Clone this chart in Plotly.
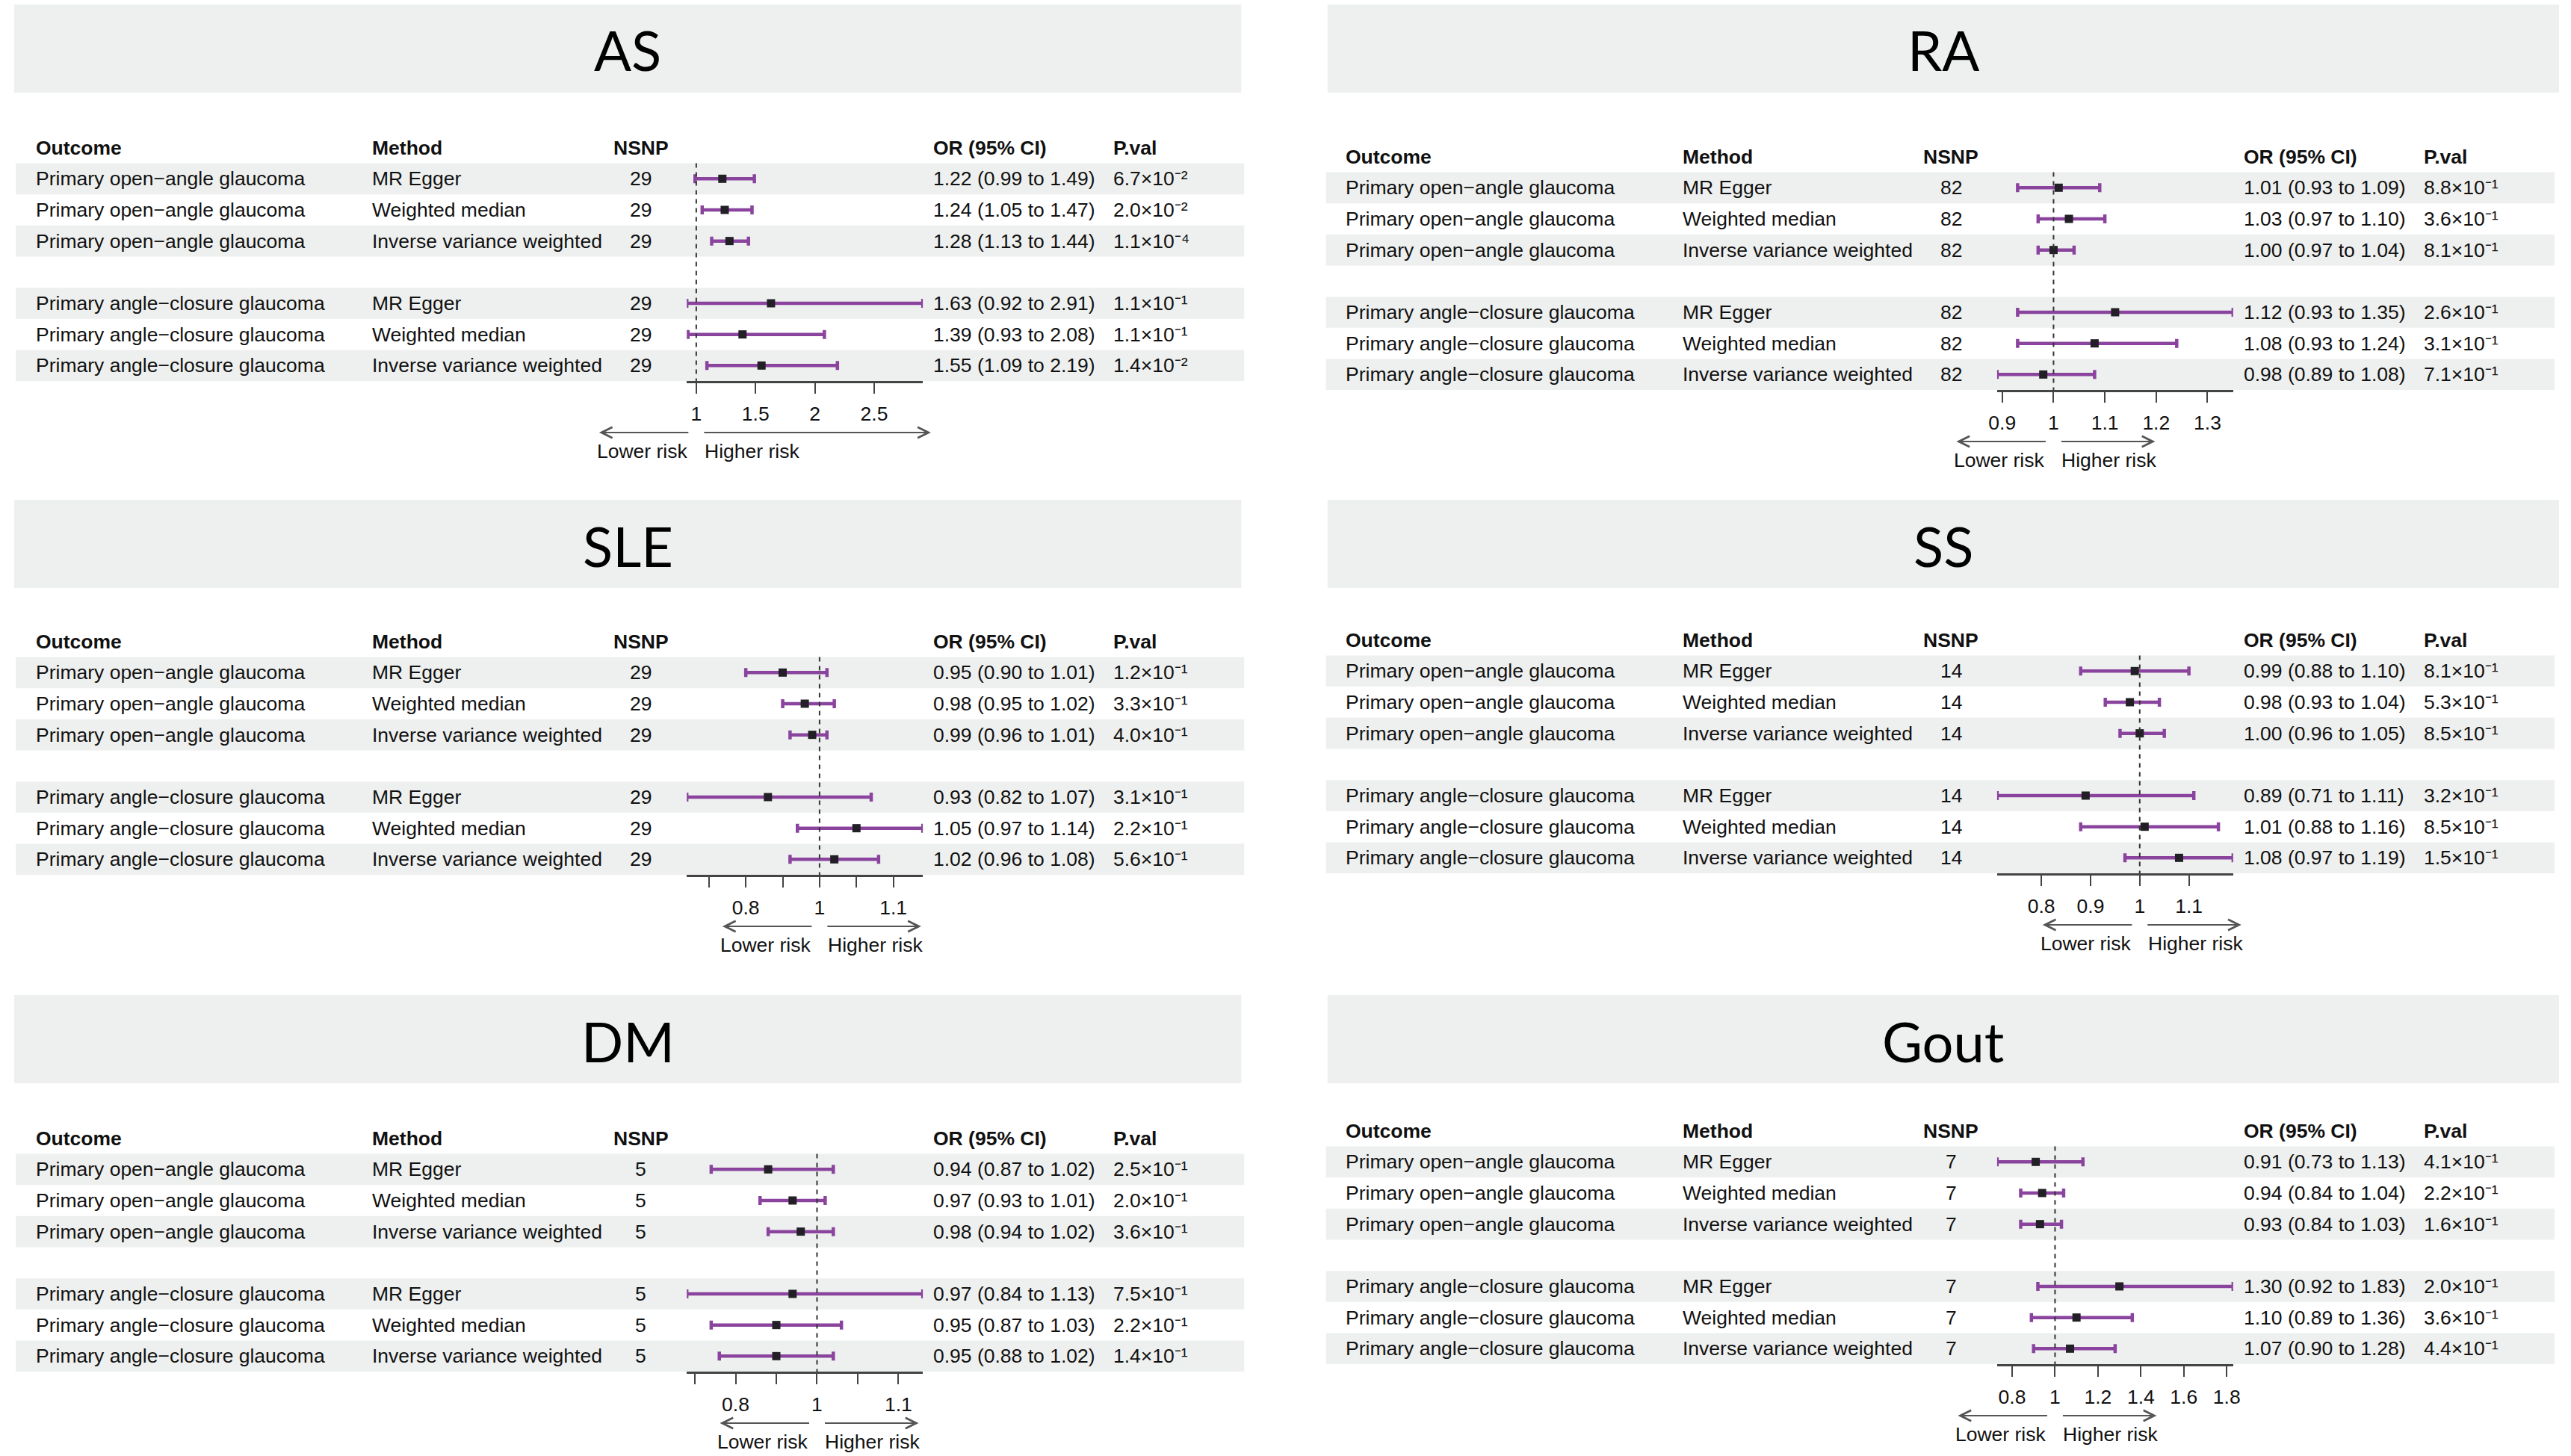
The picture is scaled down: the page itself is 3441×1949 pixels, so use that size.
import math
import plotly.graph_objects as go

# ---- data -------------------------------------------------------------
panels = ["AS", "RA", "SLE", "SS", "DM", "Gout"]
outcomes = ["Primary open\u2212angle glaucoma"] * 3 + ["Primary angle\u2212closure glaucoma"] * 3
methods = ["MR Egger", "Weighted median", "Inverse variance weighted"] * 2
nsnp = [29, 82, 29, 14, 5, 7]

or_vals = [
    [1.22, 1.24, 1.28, 1.63, 1.39, 1.55],
    [1.01, 1.03, 1.00, 1.12, 1.08, 0.98],
    [0.95, 0.98, 0.99, 0.93, 1.05, 1.02],
    [0.99, 0.98, 1.00, 0.89, 1.01, 1.08],
    [0.94, 0.97, 0.98, 0.97, 0.95, 0.95],
    [0.91, 0.94, 0.93, 1.30, 1.10, 1.07],
]
lo_vals = [
    [0.99, 1.05, 1.13, 0.92, 0.93, 1.09],
    [0.93, 0.97, 0.97, 0.93, 0.93, 0.89],
    [0.90, 0.95, 0.96, 0.82, 0.97, 0.96],
    [0.88, 0.93, 0.96, 0.71, 0.88, 0.97],
    [0.87, 0.93, 0.94, 0.84, 0.87, 0.88],
    [0.73, 0.84, 0.84, 0.92, 0.89, 0.90],
]
hi_vals = [
    [1.49, 1.47, 1.44, 2.91, 2.08, 2.19],
    [1.09, 1.10, 1.04, 1.35, 1.24, 1.08],
    [1.01, 1.02, 1.01, 1.07, 1.14, 1.08],
    [1.10, 1.04, 1.05, 1.11, 1.16, 1.19],
    [1.02, 1.01, 1.02, 1.13, 1.03, 1.02],
    [1.13, 1.04, 1.03, 1.83, 1.36, 1.28],
]
p_vals = [
    [6.7e-2, 2.0e-2, 1.1e-4, 1.1e-1, 1.1e-1, 1.4e-2],
    [8.8e-1, 3.6e-1, 8.1e-1, 2.6e-1, 3.1e-1, 7.1e-1],
    [1.2e-1, 3.3e-1, 4.0e-1, 3.1e-1, 2.2e-1, 5.6e-1],
    [8.1e-1, 5.3e-1, 8.5e-1, 3.2e-1, 8.5e-1, 1.5e-1],
    [2.5e-1, 2.0e-1, 3.6e-1, 7.5e-1, 2.2e-1, 1.4e-1],
    [4.1e-1, 2.2e-1, 1.6e-1, 2.0e-1, 3.6e-1, 4.4e-1],
]
tick_vals = [
    [1, 1.5, 2, 2.5],
    [0.9, 1, 1.1, 1.2, 1.3],
    [0.85, 0.9, 0.95, 1, 1.05, 1.1],
    [0.8, 0.9, 1, 1.1],
    [0.85, 0.9, 0.95, 1, 1.05, 1.1],
    [0.8, 1, 1.2, 1.4, 1.6, 1.8],
]
tick_text = [
    ["1", "1.5", "2", "2.5"],
    ["0.9", "1", "1.1", "1.2", "1.3"],
    ["", "0.8", "", "1", "", "1.1"],
    ["0.8", "0.9", "1", "1.1"],
    ["", "0.8", "", "1", "", "1.1"],
    ["0.8", "1", "1.2", "1.4", "1.6", "1.8"],
]
rows = [1, 2, 3, 5, 6, 7]
headers = ["Outcome", "Method", "NSNP", "OR (95% CI)", "P.val"]

# ---- layout constants (pixels of the 3441 x 1949 page) ----------------
W, H = 3441, 1949
col_dx = [0, 1765, 0, 1765, 0, 1765]
tab_dy = [0, 12, 661, 659, 1326, 1316]
ban_dy = [0, 0, 663, 663, 1326, 1326]
ban_x = [(7, 1660), (1776, 3435)]
right_arrow = [305, 127, 127, 127, 127, 127]
head_x = [34, 487, 851, 1243, 1486]

PURPLE = "#8a449e"
GREY = "#eef0ef"
TXT = "#111111"
TABLE_FONT = "Liberation Sans, Arial, sans-serif"
FS = 26.5
ROW_H = 41.67
ROW1 = 239.3
SUP = str.maketrans("-0123456789", "\u207b\u2070\u00b9\u00b2\u00b3\u2074\u2075\u2076\u2077\u2078\u2079")


def px(x):
    return x / W


def py(y):
    return 1 - y / H


fig = go.Figure()
shapes = []
annotations = []

for k, name in enumerate(panels):
    n = k + 1
    xa = "x" if n == 1 else f"x{n}"
    ya = "y" if n == 1 else f"y{n}"
    dx, dy, bdy = col_dx[k], tab_dy[k], ban_dy[k]
    side = k % 2

    # banner + title
    bx0, bx1 = ban_x[side]
    shapes.append(dict(type="rect", xref="paper", yref="paper", layer="below",
                       x0=px(bx0), x1=px(bx1), y0=py(bdy + 124), y1=py(bdy + 6),
                       fillcolor=GREY, line_width=0))
    annotations.append(dict(text=name, xref="paper", yref="paper",
                            x=px((bx0 + bx1) / 2), y=py(bdy + 67), showarrow=False,
                            xanchor="center", yanchor="middle",
                            font=dict(family="Lato, sans-serif", size=74, color="#000")))

    # stripes behind rows 1,3,5,7
    for r in [1, 3, 5, 7]:
        shapes.append(dict(type="rect", xref="paper", yref=ya, layer="below",
                           x0=px(9 + dx), x1=px(1664 + dx), y0=r - 0.5, y1=r + 0.5,
                           fillcolor=GREY, line_width=0))

    # header row
    for h, hx in zip(headers, head_x):
        annotations.append(dict(text=f"<b>{h}</b>", xref="paper", yref=ya,
                                x=px(hx + dx), y=0, showarrow=False,
                                xanchor="center" if h == "NSNP" else "left", yanchor="middle",
                                font=dict(family=TABLE_FONT, size=FS, color=TXT)))

    # table body
    for i, r in enumerate(rows):
        o, lo, hi, p = or_vals[k][i], lo_vals[k][i], hi_vals[k][i], p_vals[k][i]
        e = math.floor(math.log10(p))
        m = p / 10 ** e
        cells = [
            (outcomes[i], head_x[0], "left"),
            (methods[i], head_x[1], "left"),
            (str(nsnp[k]), head_x[2], "center"),
            (f"{o:.2f} ({lo:.2f} to {hi:.2f})", head_x[3], "left"),
            (f"{m:.1f}\u00d710" + str(e).translate(SUP), head_x[4], "left"),
        ]
        for txt, cx, anc in cells:
            annotations.append(dict(text=txt, xref="paper", yref=ya,
                                    x=px(cx + dx), y=r, showarrow=False,
                                    xanchor=anc, yanchor="middle",
                                    font=dict(family=TABLE_FONT, size=FS, color=TXT)))

    # forest points with CI
    fig.add_trace(go.Scatter(
        x=or_vals[k], y=rows, mode="markers", xaxis=xa, yaxis=ya,
        marker=dict(symbol="square", size=11, color="#231f26"),
        error_x=dict(type="data", symmetric=False,
                     array=[h - o for h, o in zip(hi_vals[k], or_vals[k])],
                     arrayminus=[o - l for o, l in zip(or_vals[k], lo_vals[k])],
                     color=PURPLE, thickness=4.5, width=6),
        cliponaxis=False, showlegend=False, hoverinfo="skip"))

    # reference line at OR = 1
    shapes.append(dict(type="line", xref=xa, yref=ya, x0=1, x1=1, y0=0.5, y1=7.5,
                       line=dict(color="#333333", width=2, dash="6px,6px")))

    # risk arrows and labels
    ay_px = dy + 579
    annotations.append(dict(text="", xref=xa, yref="paper", x=1, y=py(ay_px),
                            xshift=-(9 + 121), ax=121, ay=0, showarrow=True,
                            arrowhead=5, arrowsize=1.3, arrowwidth=2.2, arrowcolor="#555555"))
    annotations.append(dict(text="", xref=xa, yref="paper", x=1, y=py(ay_px),
                            xshift=9 + right_arrow[k], ax=-right_arrow[k], ay=0, showarrow=True,
                            arrowhead=5, arrowsize=1.3, arrowwidth=2.2, arrowcolor="#555555"))
    annotations.append(dict(text="Lower risk", xref=xa, yref="paper", x=1, y=py(dy + 604),
                            xshift=-9, xanchor="right", yanchor="middle", showarrow=False,
                            font=dict(family=TABLE_FONT, size=FS, color=TXT)))
    annotations.append(dict(text="Higher risk", xref=xa, yref="paper", x=1, y=py(dy + 604),
                            xshift=9, xanchor="left", yanchor="middle", showarrow=False,
                            font=dict(family=TABLE_FONT, size=FS, color=TXT)))

    # axes
    top = dy + ROW1 - 1.5 * ROW_H
    bot = dy + ROW1 + 6.5 * ROW_H
    fig.update_layout({
        f"xaxis{'' if n == 1 else n}": dict(
            domain=[px(913 + dx), px(1231 + dx)], anchor=ya,
            range=[min(lo_vals[k]), max(hi_vals[k])],
            tickvals=tick_vals[k], ticktext=tick_text[k],
            showline=True, linecolor="#444444", linewidth=2.5,
            ticks="outside", ticklen=14, tickwidth=2, tickcolor="#444444",
            ticklabelstandoff=4,
            tickfont=dict(family=TABLE_FONT, size=FS, color=TXT),
            showgrid=False, zeroline=False, fixedrange=True),
        f"yaxis{'' if n == 1 else n}": dict(
            domain=[py(bot), py(top)], anchor=xa, range=[7.5, -0.5],
            visible=False, fixedrange=True),
    })

fig.update_layout(
    width=W, height=H, autosize=False,
    margin=dict(l=0, r=0, t=0, b=0),
    paper_bgcolor="white", plot_bgcolor="rgba(0,0,0,0)",
    shapes=shapes, annotations=annotations,
)
fig.write_html("out.html", config={"displayModeBar": False},
               post_script="document.body.style.margin='0';document.body.style.overflow='hidden';")
